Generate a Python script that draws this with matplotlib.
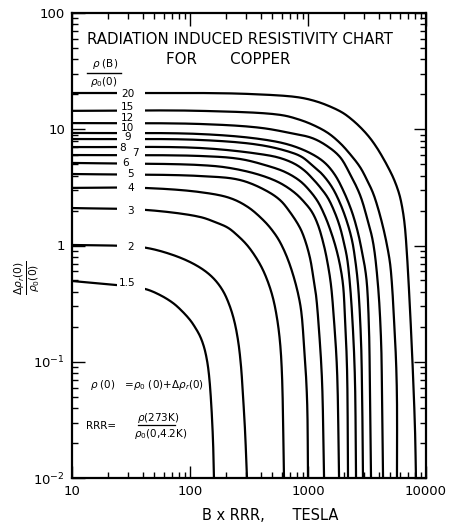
import matplotlib
matplotlib.use("Agg")
import numpy as np
import matplotlib.pyplot as plt
from matplotlib.patches import Rectangle
from matplotlib.ticker import LogLocator, FixedLocator, NullFormatter, FixedFormatter

# ---- data ----
curve_labels = ["20", "15", "12", "10", "9", "8", "7", "6", "5", "4", "3", "2", "1.5"]

curve_x = [
    [10, 121.6, 322, 807, 1146, 1536, 1982, 2405, 2871, 3350, 3846, 4325, 4764, 5248, 5675, 6026,
     6383, 6637, 6902, 7178, 7464, 7762, 8072, 8222],
    [10, 121.6, 579, 823, 1102, 1476, 1866, 2270, 2760, 3162, 3556, 3917, 4325, 4667, 4954, 5152,
     5358, 5570, 5675, 5675],
    [10, 121.6, 392, 703, 1081, 1449, 1866, 2270, 2760, 3162, 3556, 3917, 4159, 4236, 4325],
    [10, 121.6, 392, 703, 1081, 1393, 1694, 2018, 2360, 2655, 2871, 3041, 3162, 3289, 3350, 3420],
    [10, 121.6, 392, 703, 889, 1081, 1314, 1596, 1866, 2143, 2360, 2500, 2655, 2812, 2871, 2924],
    [10, 121.6, 392, 579, 776, 944, 1081, 1264, 1476, 1694, 1866, 2018, 2143, 2270, 2405, 2500, 2553],
    [10, 121.6, 265, 432, 639, 855, 1040, 1216, 1393, 1566, 1726, 1866, 1982, 2061, 2143, 2183],
    [10, 121.6, 218.3, 392, 579, 776, 944, 1081, 1216, 1368, 1476, 1566, 1660, 1762, 1833],
    [10, 121.6, 265, 432, 579, 703, 855, 944, 1040, 1102, 1169, 1239, 1314, 1368],
    [10, 40, 121.6, 218.3, 310, 416, 495, 579, 703, 855, 925, 982, 1000],
    [10, 43.3, 121.6, 163, 209.9, 255, 304, 355.6, 407.6, 458, 505, 546, 579, 602, 626],
    [10, 28.1, 43.3, 67.8, 100, 134, 163, 190.5, 214, 236, 255, 270, 281, 292.5, 304],
    [10, 24.0, 41.6, 55.7, 71.8, 85.5, 100, 110, 121.6, 131.4, 139.3, 144.9, 150.6, 156.6, 159.6],
]

curve_y = [
    [20.5, 20.5, 20.1, 18.9, 17.5, 15.7, 13.8, 11.9, 10.05, 8.41, 6.90, 5.66, 4.73, 3.88, 3.18, 2.61,
     1.94, 1.42, 0.828, 0.414, 0.188, 0.0769, 0.0259, 0.01],
    [14.4, 14.4, 13.3, 12.2, 10.9, 9.29, 7.62, 6.12, 4.73, 3.66, 2.83, 2.10, 1.44, 1.01, 0.707, 0.457,
     0.229, 0.103, 0.0469, 0.01],
    [11.3, 11.1, 10.3, 9.29, 8.41, 7.18, 5.77, 4.12, 2.72, 1.73, 1.07, 0.457, 0.154, 0.0571, 0.01],
    [9.29, 9.10, 8.24, 7.32, 6.12, 5.13, 4.04, 2.88, 1.94, 1.28, 0.879, 0.640, 0.457, 0.188, 0.0571, 0.01],
    [8.24, 8.09, 7.32, 6.37, 5.77, 4.92, 4.12, 3.18, 2.32, 1.59, 1.11, 0.780, 0.457, 0.154, 0.0571, 0.01],
    [7.03, 6.90, 6.12, 5.66, 5.02, 4.37, 3.81, 3.18, 2.56, 1.90, 1.44, 1.05, 0.780, 0.457, 0.188,
     0.0697, 0.01],
    [6.00, 5.89, 5.55, 4.92, 4.29, 3.59, 2.94, 2.37, 1.79, 1.31, 0.952, 0.679, 0.457, 0.229, 0.0849, 0.01],
    [5.13, 4.92, 4.64, 4.04, 3.45, 2.83, 2.32, 1.94, 1.50, 0.99, 0.679, 0.457, 0.229, 0.0849, 0.01],
    [4.12, 3.96, 3.66, 3.00, 2.46, 1.94, 1.42, 1.11, 0.780, 0.557, 0.375, 0.188, 0.0697, 0.01],
    [3.13, 3.13, 2.88, 2.56, 2.14, 1.66, 1.36, 1.07, 0.679, 0.320, 0.139, 0.0469, 0.01],
    [2.10, 2.02, 1.76, 1.59, 1.42, 1.21, 1.01, 0.813, 0.640, 0.485, 0.353, 0.238, 0.148, 0.0769, 0.01],
    [1.01, 0.99, 0.952, 0.845, 0.721, 0.604, 0.505, 0.406, 0.314, 0.229, 0.154, 0.0937, 0.0518, 0.0259,
     0.01],
    [0.495, 0.457, 0.423, 0.375, 0.320, 0.273, 0.229, 0.199, 0.166, 0.134, 0.103, 0.0769, 0.0469, 0.0212,
     0.01],
]

# where each curve label sits (data coords)
label_x = [29.8, 29.8, 29.8, 29.8, 29.8, 27.0, 34.2, 28.6, 31.6, 31.6, 31.6, 31.6, 29.3]
label_y = [20.1, 15.5, 12.4, 10.2, 8.6, 6.9, 6.25, 5.13, 4.12, 3.13, 1.98, 0.97, 0.48]

x_ticks = [10, 100, 1000, 10000]
x_ticklabels = ["10", "100", "1000", "10000"]
y_ticks = [0.01, 0.1, 1, 10, 100]
y_ticklabels = [r"$10^{-2}$", r"$10^{-1}$", "1", "10", "100"]


def smooth_line(xs, ys, n=16, alpha=0.5):
    """Centripetal Catmull-Rom line through the read points, in log-log space."""
    P = np.column_stack([np.log10(xs), np.log10(ys)])
    P = np.vstack([2 * P[0] - P[1], P, 2 * P[-1] - P[-2]])
    out = [P[1]]
    for i in range(1, len(P) - 2):
        p0, p1, p2, p3 = P[i - 1], P[i], P[i + 1], P[i + 2]
        t0 = 0.0
        t1 = t0 + np.linalg.norm(p1 - p0) ** alpha
        t2 = t1 + np.linalg.norm(p2 - p1) ** alpha
        t3 = t2 + np.linalg.norm(p3 - p2) ** alpha
        t = np.linspace(t1, t2, n)[1:, None]
        A1 = (t1 - t) / (t1 - t0) * p0 + (t - t0) / (t1 - t0) * p1
        A2 = (t2 - t) / (t2 - t1) * p1 + (t - t1) / (t2 - t1) * p2
        A3 = (t3 - t) / (t3 - t2) * p2 + (t - t2) / (t3 - t2) * p3
        B1 = (t2 - t) / (t2 - t0) * A1 + (t - t0) / (t2 - t0) * A2
        B2 = (t3 - t) / (t3 - t1) * A2 + (t - t1) / (t3 - t1) * A3
        C = (t2 - t) / (t2 - t1) * B1 + (t - t1) / (t2 - t1) * B2
        out.extend(C)
    out = np.array(out)
    return 10 ** out[:, 0], 10 ** out[:, 1]


# ---- figure ----
plt.rcParams["font.family"] = ["DejaVu Sans"]
fig = plt.figure(figsize=(4.58, 5.29), dpi=100)
ax = fig.add_axes([72 / 458, 1 - 478 / 529, (426 - 72) / 458, (478 - 13) / 529])

for xs, ys in zip(curve_x, curve_y):
    sx, sy = smooth_line(xs, ys)
    ax.plot(sx, sy, color="black", lw=1.6, solid_capstyle="butt", solid_joinstyle="round", zorder=2)

ax.set_xscale("log")
ax.set_yscale("log")
ax.set_xlim(10, 10000)
ax.set_ylim(0.01, 100)

# blank column where the curve labels sit (gap in the lines)
ax.add_patch(Rectangle((24.0, 0.40), 41.6 - 24.0, 23.0 - 0.40, facecolor="white", edgecolor="none",
                       zorder=3))

ax.xaxis.set_major_locator(FixedLocator(x_ticks))
ax.xaxis.set_major_formatter(FixedFormatter(x_ticklabels))
ax.yaxis.set_major_locator(FixedLocator(y_ticks))
ax.yaxis.set_major_formatter(FixedFormatter(y_ticklabels))
ax.xaxis.set_minor_locator(LogLocator(base=10, subs=range(2, 10)))
ax.yaxis.set_minor_locator(LogLocator(base=10, subs=range(2, 10)))
ax.xaxis.set_minor_formatter(NullFormatter())
ax.yaxis.set_minor_formatter(NullFormatter())
ax.tick_params(which="both", direction="in", top=True, right=True, width=1.0, labelsize=9.5)
ax.tick_params(which="major", length=9, pad=5)
ax.tick_params(which="minor", length=4)
for s in ax.spines.values():
    s.set_linewidth(1.6)

for lab, lx, ly in zip(curve_labels, label_x, label_y):
    ax.text(lx, ly, lab, ha="center", va="center", fontsize=7.6, zorder=4)

# title
fig.text(240 / 458, 1 - 39 / 529, "RADIATION INDUCED RESISTIVITY CHART", ha="center", va="center",
         fontsize=10.8)
fig.text(228 / 458, 1 - 59 / 529, "FOR       COPPER", ha="center", va="center", fontsize=10.8)

# legend fraction rho(B)/rho0(0)
fig.text(105 / 458, 1 - 64 / 529, r"$\rho$ (B)", ha="center", va="center", fontsize=7.5)
fig.text(104 / 458, 1 - 82 / 529, r"$\rho_0$(0)", ha="center", va="center", fontsize=7.5)
fig.add_artist(plt.Line2D([87 / 458, 121 / 458], [1 - 73 / 529, 1 - 73 / 529], color="black", lw=1.0))

# formulas
fig.text(90 / 458, 1 - 385 / 529, r"$\rho$ (0)   =$\rho_0$ (0)+$\Delta\rho_r$(0)", ha="left", va="center",
         fontsize=7.5)
fig.text(86 / 458, 1 - 426 / 529, "RRR=", ha="left", va="center", fontsize=7.5)
fig.text(158 / 458, 1 - 418 / 529, r"$\rho$(273K)", ha="center", va="center", fontsize=7.5)
fig.text(161 / 458, 1 - 434 / 529, r"$\rho_0$(0,4.2K)", ha="center", va="center", fontsize=7.5)
fig.add_artist(plt.Line2D([138 / 458, 175 / 458], [1 - 425 / 529, 1 - 425 / 529], color="black", lw=0.9))

# axis labels
fig.text(27 / 458, 1 - 278 / 529, r"$\frac{\Delta\rho_r(0)}{\rho_0(0)}$", rotation=90, ha="center",
         va="center", fontsize=11)
fig.text(270 / 458, 1 - 516 / 529, "B x RRR,      TESLA", ha="center", va="center", fontsize=10.5)

fig.savefig("out.png", dpi=100)
